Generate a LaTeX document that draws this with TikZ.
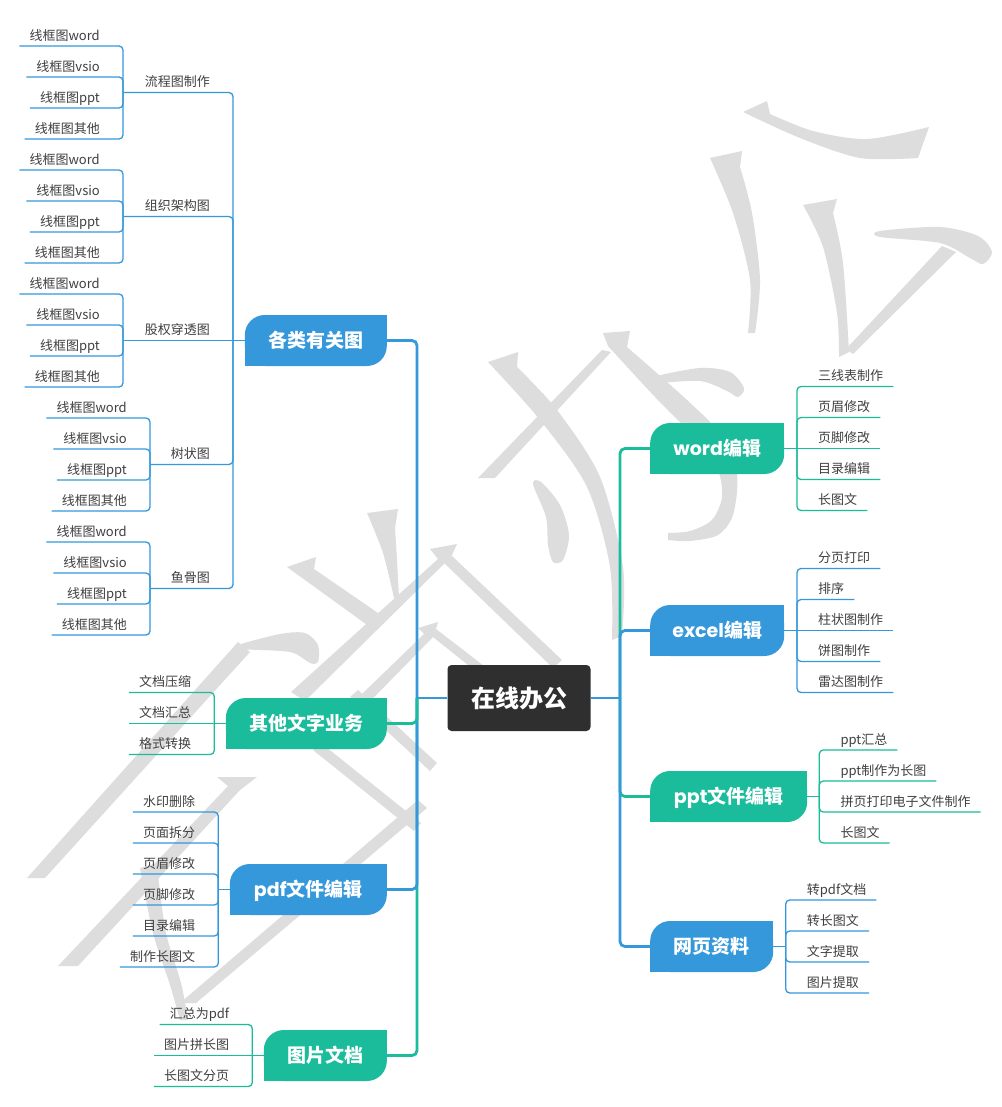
\documentclass[tikz,border=0pt]{standalone}
\usepackage{fontspec}
\setmainfont{Noto Sans CJK SC}
\newfontfamily\pop{Poppins}
\definecolor{cblue}{RGB}{52,152,219}
\definecolor{cgreen}{RGB}{26,188,156}
\definecolor{cdark}{RGB}{47,47,47}
\definecolor{ctext}{RGB}{64,64,64}
\definecolor{wmc}{RGB}{221,221,221}
\tikzset{
  trunk/.style={line width=2.8pt, rounded corners=5pt},
  sub/.style={line width=1.3pt, rounded corners=4pt},
  lleaf/.style={anchor=south east, inner xsep=10pt, inner ysep=0pt, text height=10pt, text depth=5.5pt, font=\fontsize{13}{13}\selectfont, text=ctext},
  rleaf/.style={lleaf, anchor=south west},
  mtopic/.style={rectangle, inner sep=0pt, minimum height=51pt, text=white,
    font=\bfseries\fontsize{19}{19}\selectfont, text height=16pt, text depth=1.6pt,
    path picture={
      \fill[#1, rounded corners=20pt] (path picture bounding box.south west) rectangle (path picture bounding box.north east);
      \fill[#1] (path picture bounding box.north east) rectangle ([xshift=-21pt,yshift=-21pt]path picture bounding box.north east);
      \fill[#1] (path picture bounding box.south west) rectangle ([xshift=21pt,yshift=21pt]path picture bounding box.south west);
    }},
  ctopic/.style={rectangle, fill=cdark, rounded corners=4pt, minimum width=143pt, minimum height=66pt, inner sep=0pt, text=white, font=\bfseries\fontsize{24}{24}\selectfont, text height=20pt, text depth=1.8pt}
}
% #1 junction, #2 x of node anchor, #3 y centre, #4 count, #5 colour, #6 prefix, #7 list
\newcommand\lgroupL[7]{%
  \foreach \lbl [count=\i] in {#7} {%
    \pgfmathsetmacro\yy{#3+(\i-(#4+1)/2)*31}%
    \node[lleaf] (#6-\i) at (#2,\yy) {\lbl};%
    \ifdim\yy pt=#3pt\relax
      \draw[sub,#5] (#1) -- (#6-\i.south west);%
    \else
      \draw[sub,#5] (#1) |- (#6-\i.south west);%
    \fi
  }%
}
\newcommand\lgroupR[7]{%
  \foreach \lbl [count=\i] in {#7} {%
    \pgfmathsetmacro\yy{#3+(\i-(#4+1)/2)*31}%
    \node[rleaf] (#6-\i) at (#2,\yy) {\lbl};%
    \ifdim\yy pt=#3pt\relax
      \draw[sub,#5] (#1) -- (#6-\i.south east);%
    \else
      \draw[sub,#5] (#1) |- (#6-\i.south east);%
    \fi
  }%
}
\begin{document}
\begin{tikzpicture}[x=1pt,y=-1pt]
\fill[white] (0,0) rectangle (1001,1107);
\path[use as bounding box] (0,0) rectangle (1001,1107);

% ---------- watermark ----------
\begin{scope}[fill=wmc]
\fill (743,112) -- (767,101) -- plot[smooth] coordinates {(770,114) (813,131) (867,139) (929,127)} -- plot[smooth] coordinates {(918,158) (860,158) (800,138) (743,112)} -- cycle;
\fill (710,158) -- (742,151) -- plot[smooth] coordinates {(740,167) (752,213) (760,280) (755,333)} -- plot[smooth] coordinates {(748,333) (750,280) (733,213) (710,158)} -- cycle;
\fill (803,205) -- (837,199) -- plot[smooth] coordinates {(833,213) (843,263) (849,352)} -- plot[smooth] coordinates {(839,357) (837,313) (823,247) (803,205)} -- cycle;
\fill (942,246) -- (956,252) -- (853,354) -- (846,349) -- cycle;
\fill plot[smooth cycle] coordinates {(880,231) (940,227) (978,236) (992,252) (983,264) (970,258) (940,243) (880,237)};
\fill (488,362) -- (518,352) -- plot[smooth] coordinates {(517,367) (557,410) (600,477) (623,567) (622,636)} -- plot[smooth] coordinates {(612,640) (610,567) (587,487) (540,420) (488,362)} -- cycle;
\fill (478,478) -- (495,478) -- (611,352) -- (602,350) -- cycle;
\fill (603,333) -- (630,331) -- plot[smooth] coordinates {(627,347) (687,400) (722,436) (737,475) (733,515) (718,535) (690,541) (668,540)} -- plot[smooth] coordinates {(668,533) (690,531) (712,520) (722,497) (718,470) (700,443) (655,397) (608,346)} -- cycle;
\fill plot[smooth cycle] coordinates {(653,377) (700,368) (730,372) (744,388) (738,397) (727,391) (700,381) (653,383)};
\fill plot[smooth cycle] coordinates {(533,484) (541,482) (560,505) (569,535) (563,560) (553,562) (548,545) (546,517)};
\fill (367,513) -- (398,509) -- plot[smooth] coordinates {(395,528) (397,560) (399,598)} -- plot[smooth] coordinates {(394,598) (383,553) (367,513)} -- cycle;
\fill (287,567) -- (316,557) -- (314,569) -- (378,613) -- (370,627) -- cycle;
\fill (430,549) -- (457,544) -- (451,557) -- (305,701) -- (291,692) -- (438,559) -- cycle;
\fill (441,560) -- (452,556) -- (562,660) -- (553,668) -- cycle;
\fill (418,628) -- (438,622) -- (434,636) -- (342,730) -- (333,722) -- (424,634) -- cycle;
\fill (428,633) -- (436,629) -- (545,713) -- (538,721) -- cycle;
\fill (350,697) -- (358,690) -- (437,763) -- (430,771) -- cycle;
\fill (313,750) -- (321,743) -- (421,823) -- (414,831) -- cycle;
\fill plot[smooth cycle] coordinates {(238,645) (280,634) (305,633) (318,645) (318,662) (310,663) (290,652) (240,649)};
\fill (27,878) -- (45,878) -- (250,652) -- (238,642) -- cycle;
\fill (58,966) -- (78,966) -- (240,790) -- (257,777) -- (217,777) -- (228,786) -- cycle;
\fill (180,1003) -- (196,1003) -- (427,808) -- (418,800) -- cycle;
\fill (140,868) -- (160,862) -- plot[smooth] coordinates {(158,875) (166,933) (181,983) (188,1020)} -- plot[smooth] coordinates {(180,1020) (170,985) (153,933) (140,868)} -- cycle;
\end{scope}

% ---------- nodes ----------
\node[ctopic] (c) at (519,698) {在线办公};
\node[mtopic=cblue,  minimum width=142pt, anchor=east] (A) at (387,340.5) {各类有关图};
\node[mtopic=cgreen, minimum width=161pt, anchor=east] (B) at (387,723.5) {其他文字业务};
\node[mtopic=cblue,  minimum width=157pt, anchor=east] (C) at (387,889.5) {{\pop pdf}文件编辑};
\node[mtopic=cgreen, minimum width=123pt, anchor=east] (D) at (387,1055.5) {图片文档};
\node[mtopic=cgreen, minimum width=134pt, anchor=west] (E) at (650,448.5) {{\pop word}编辑};
\node[mtopic=cblue,  minimum width=134pt, anchor=west] (F) at (650,630.5) {{\pop excel}编辑};
\node[mtopic=cgreen, minimum width=157pt, anchor=west] (G) at (650,796.5) {{\pop ppt}文件编辑};
\node[mtopic=cblue,  minimum width=123pt, anchor=west] (H) at (650,946.5) {网页资料};

% ---------- trunks ----------
\coordinate (LT) at (417,698);
\coordinate (RT) at (620,698);
\draw[trunk,cblue] (c.west) -- (LT);
\draw[trunk,cblue] (LT) |- (A.east);
\draw[trunk,cgreen] (LT) |- (D.east);
\draw[trunk,cblue] (LT) |- (C.east);
\draw[trunk,cgreen] (LT) |- (B.east);
\draw[trunk,cblue] (c.east) -- (RT);
\draw[trunk,cgreen] (RT) |- (E.west);
\draw[trunk,cblue] (RT) |- (F.west);
\draw[trunk,cgreen] (RT) |- (G.west);
\draw[trunk,cblue] (RT) |- (H.west);

% ---------- group A ----------
\coordinate (JA) at (233,340.5);
\draw[sub,cblue] (A.west) -- (JA);
\node[lleaf] (a1) at (220,92.5) {流程图制作};
\node[lleaf] (a2) at (220,216.5) {组织架构图};
\node[lleaf] (a3) at (220,340.5) {股权穿透图};
\node[lleaf] (a4) at (220,464.5) {树状图};
\node[lleaf] (a5) at (220,588.5) {鱼骨图};
\coordinate (Ka1) at (123,92.5);
\coordinate (Ka2) at (123,216.5);
\coordinate (Ka3) at (123,340.5);
\coordinate (Ka4) at (150,464.5);
\coordinate (Ka5) at (150,588.5);
\draw[sub,cblue] (JA) |- (Ka1);
\draw[sub,cblue] (JA) |- (Ka2);
\draw[sub,cblue] (JA) -- (Ka3);
\draw[sub,cblue] (JA) |- (Ka4);
\draw[sub,cblue] (JA) |- (Ka5);
\lgroupL{Ka1}{110}{92.5}{4}{cblue}{a1l}{线框图word,线框图vsio,线框图ppt,线框图其他}
\lgroupL{Ka2}{110}{216.5}{4}{cblue}{a2l}{线框图word,线框图vsio,线框图ppt,线框图其他}
\lgroupL{Ka3}{110}{340.5}{4}{cblue}{a3l}{线框图word,线框图vsio,线框图ppt,线框图其他}
\lgroupL{Ka4}{137}{464.5}{4}{cblue}{a4l}{线框图word,线框图vsio,线框图ppt,线框图其他}
\lgroupL{Ka5}{137}{588.5}{4}{cblue}{a5l}{线框图word,线框图vsio,线框图ppt,线框图其他}

% ---------- groups B C D ----------
\coordinate (JB) at (214.3,723.5);
\draw[sub,cgreen] (B.west) -- (JB);
\lgroupL{JB}{201.3}{723.5}{3}{cgreen}{bl}{文档压缩,文档汇总,格式转换}
\coordinate (JC) at (218.3,889.5);
\draw[sub,cblue] (C.west) -- (JC);
\lgroupL{JC}{205.3}{889.5}{6}{cblue}{cl}{水印删除,页面拆分,页眉修改,页脚修改,目录编辑,制作长图文}
\coordinate (JD) at (252.3,1055.5);
\draw[sub,cgreen] (D.west) -- (JD);
\lgroupL{JD}{239.3}{1055.5}{3}{cgreen}{dl}{汇总为pdf,图片拼长图,长图文分页}

% ---------- right groups ----------
\coordinate (JE) at (797,448.5);
\draw[sub,cgreen] (E.east) -- (JE);
\lgroupR{JE}{808}{448.5}{5}{cgreen}{el}{三线表制作,页眉修改,页脚修改,目录编辑,长图文}
\coordinate (JF) at (797,630.5);
\draw[sub,cblue] (F.east) -- (JF);
\lgroupR{JF}{808}{630.5}{5}{cblue}{fl}{分页打印,排序,柱状图制作,饼图制作,雷达图制作}
\coordinate (JG) at (819.3,796.5);
\draw[sub,cgreen] (G.east) -- (JG);
\lgroupR{JG}{830.3}{796.5}{4}{cgreen}{gl}{ppt汇总,ppt制作为长图,拼页打印电子文件制作,长图文}
\coordinate (JH) at (785.7,946.5);
\draw[sub,cblue] (H.east) -- (JH);
\lgroupR{JH}{796.7}{946.5}{4}{cblue}{hl}{转pdf文档,转长图文,文字提取,图片提取}
\end{tikzpicture}
\end{document}
